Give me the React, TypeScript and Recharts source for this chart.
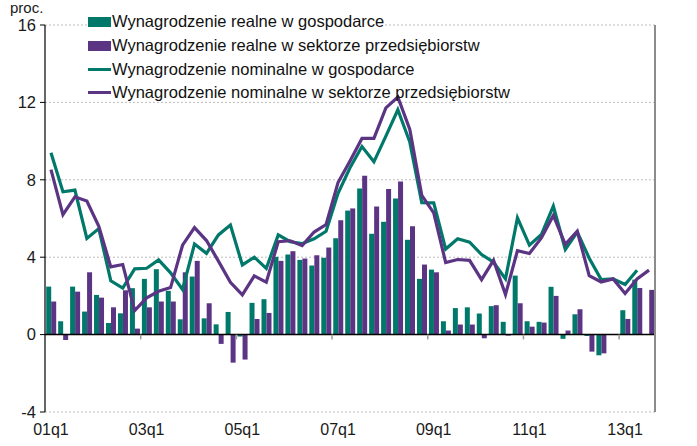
import React from 'react';
import {
  ComposedChart, Bar, Line, XAxis, YAxis, CartesianGrid, ReferenceLine, Legend,
} from 'recharts';

const quarters = [
  '01q1','01q2','01q3','01q4','02q1','02q2','02q3','02q4',
  '03q1','03q2','03q3','03q4','04q1','04q2','04q3','04q4',
  '05q1','05q2','05q3','05q4','06q1','06q2','06q3','06q4',
  '07q1','07q2','07q3','07q4','08q1','08q2','08q3','08q4',
  '09q1','09q2','09q3','09q4','10q1','10q2','10q3','10q4',
  '11q1','11q2','11q3','11q4','12q1','12q2','12q3','12q4',
  '13q1','13q2','13q3',
];

const realEconomy = [
  2.48, 0.69, 2.48, 1.19, 2.05, 0.6, 1.1, 2.4, 2.88, 3.38,
  2.26, 0.79, 3.0, 0.84, 0.53, 1.17, -0.1, 1.64, 1.83, 4.02,
  4.14, 3.86, 3.57, 3.97, 4.98, 6.41, 7.55, 5.21, 5.83, 7.03,
  4.9, 2.88, 3.36, 0.69, 1.37, 1.41, 1.09, 1.47, 0.66, 3.05,
  0.69, 0.66, 2.47, -0.22, 1.05, -0.07, -1.07, 0.02, 1.26, 2.84, null,
];

const realEnterprise = [
  1.71, -0.28, 2.22, 3.22, 1.91, 1.41, 2.29, 0.31, 1.41, 1.71,
  1.71, 3.22, 3.81, 1.62, -0.48, -1.45, -1.29, 0.81, 1.12, 3.81,
  4.31, 3.93, 4.1, 4.5, 5.91, 6.52, 8.21, 6.62, 7.52, 7.91,
  5.6, 3.62, 3.22, 0.21, 0.52, 0.52, -0.19, 1.52, -0.05, 1.62,
  0.41, 0.62, 2.0, 0.21, 1.31, -0.88, -0.97, 0, 0.81, 2.41, 2.31,
];

const nominalEconomy = [
  9.4, 7.38, 7.47, 4.97, 5.48, 2.78, 2.4, 3.4, 3.43, 3.86,
  3.19, 2.33, 4.68, 4.2, 5.15, 5.66, 3.6, 4.0, 3.42, 5.15,
  4.8, 4.7, 4.95, 5.34, 7.3, 8.62, 9.72, 8.93, 10.26, 11.62,
  9.95, 6.82, 6.81, 4.42, 4.95, 4.78, 4.14, 3.74, 2.88, 6.03,
  4.62, 5.17, 6.64, 4.4, 5.3, 3.95, 2.84, 2.88, 2.59, 3.33, null,
];

const nominalEnterprise = [
  8.53, 6.2, 7.12, 6.9, 5.6, 3.5, 3.62, 1.24, 1.9, 2.24,
  2.43, 4.62, 5.53, 4.86, 3.8, 2.7, 2.05, 3.03, 2.71, 4.8,
  4.85, 4.6, 5.3, 5.69, 7.86, 8.97, 10.14, 10.14, 11.72, 12.28,
  10.6, 7.2, 6.29, 3.72, 3.88, 3.84, 2.84, 3.84, 2.07, 4.34,
  4.19, 5.0, 6.16, 4.66, 5.34, 3.05, 2.72, 2.88, 2.12, 2.88, 3.33,
];

const yTicks = [-4, 0, 4, 8, 12, 16];
const zeroTickQuarters = ['03q1', '05q1', '07q1', '09q1', '11q1', '13q1'];

const seriesNames = [
  'Wynagrodzenie realne w gospodarce',
  'Wynagrodzenie realne w sektorze przedsiębiorstw',
  'Wynagrodzenie nominalne w gospodarce',
  'Wynagrodzenie nominalne w sektorze przedsiębiorstw',
];

const TEAL = '#00786a';
const PURPLE = '#5c3484';
const FONT = '"Liberation Sans", Arial, Helvetica, sans-serif';

const data = quarters.map((q, i) => ({
  q,
  realEconomy: realEconomy[i],
  realEnterprise: realEnterprise[i],
  nominalEconomy: nominalEconomy[i],
  nominalEnterprise: nominalEnterprise[i],
}));

const legendItems = [
  { label: seriesNames[0], color: TEAL, kind: 'bar' },
  { label: seriesNames[1], color: PURPLE, kind: 'bar' },
  { label: seriesNames[2], color: TEAL, kind: 'line' },
  { label: seriesNames[3], color: PURPLE, kind: 'line' },
];

const LegendContent = () => (
  <div style={{ fontFamily: FONT, fontSize: 16.5, color: '#111' }}>
    {legendItems.map((it, idx) => (
      <div key={it.label} style={{ display: 'flex', alignItems: 'center', height: 23.7, whiteSpace: 'nowrap' }}>
        <span style={{ display: 'inline-block', width: 23, height: it.kind === 'bar' ? 10 : 3, background: it.color, marginRight: 1 }} />
        <span style={{ background: idx === 0 ? '#fff' : 'transparent', lineHeight: '19px' }}>{it.label}</span>
      </div>
    ))}
  </div>
);

export default function App() {
  return (
    <div style={{ position: 'absolute', left: 0, top: 0, width: 697, height: 446, fontFamily: FONT, background: '#fff' }}>
      <ComposedChart
        width={697}
        height={446}
        data={data}
        margin={{ top: 25, right: 0, bottom: 8, left: 0 }}
        barGap={0}
        barCategoryGap="10%"
      >
        <CartesianGrid yAxisId="left" vertical={false} stroke="#bdbdbd" strokeDasharray="2 2" />
        <XAxis
          dataKey="q"
          interval={7}
          axisLine={false}
          tickLine={false}
          height={26}
          tickSize={8}
          tickMargin={4}
          tick={{ fontSize: 16, fill: '#1a1a1a', fontFamily: FONT }}
        />
        <YAxis
          yAxisId="left"
          width={45}
          domain={[-4, 16]}
          ticks={yTicks}
          interval={0}
          axisLine={{ stroke: '#000', strokeWidth: 1.2 }}
          tickLine={{ stroke: '#000' }}
          tickSize={5}
          tickMargin={4}
          tick={{ fontSize: 16.5, fill: '#1a1a1a', fontFamily: FONT }}
        />
        <YAxis
          yAxisId="right"
          orientation="right"
          width={42}
          domain={[-4, 16]}
          ticks={yTicks}
          interval={0}
          axisLine={{ stroke: '#8c8c8c', strokeWidth: 2 }}
          tickLine={{ stroke: '#8c8c8c', strokeWidth: 1.5 }}
          tickSize={5}
          tickMargin={10}
          tick={{ fontSize: 16.5, fill: '#1a1a1a', fontFamily: FONT }}
        />
        <Bar yAxisId="left" dataKey="realEconomy" name={seriesNames[0]} fill={TEAL} isAnimationActive={false} />
        <Bar yAxisId="left" dataKey="realEnterprise" name={seriesNames[1]} fill={PURPLE} isAnimationActive={false} />
        <ReferenceLine yAxisId="left" y={0} stroke="#000" strokeWidth={1.5} />
        {zeroTickQuarters.map((q) => (
          <ReferenceLine
            key={q}
            yAxisId="left"
            position="start"
            segment={[{ x: q, y: 0 }, { x: q, y: -0.25 }]}
            stroke="#9a9a9a"
            strokeWidth={1.5}
          />
        ))}
        <Line yAxisId="left" type="linear" dataKey="nominalEconomy" name={seriesNames[2]} stroke={TEAL} strokeWidth={3.2} dot={false} isAnimationActive={false} connectNulls={false} />
        <Line yAxisId="left" type="linear" dataKey="nominalEnterprise" name={seriesNames[3]} stroke={PURPLE} strokeWidth={3.2} dot={false} isAnimationActive={false} connectNulls={false} />
        <Legend
          layout="vertical"
          align="center"
          verticalAlign="middle"
          content={LegendContent}
          wrapperStyle={{ top: 10, left: 88, width: 'auto', height: 'auto' }}
        />
      </ComposedChart>
      <div style={{ position: 'absolute', left: 10, top: 0, fontSize: 15, lineHeight: '15px', color: '#1a1a1a' }}>proc.</div>
    </div>
  );
}
